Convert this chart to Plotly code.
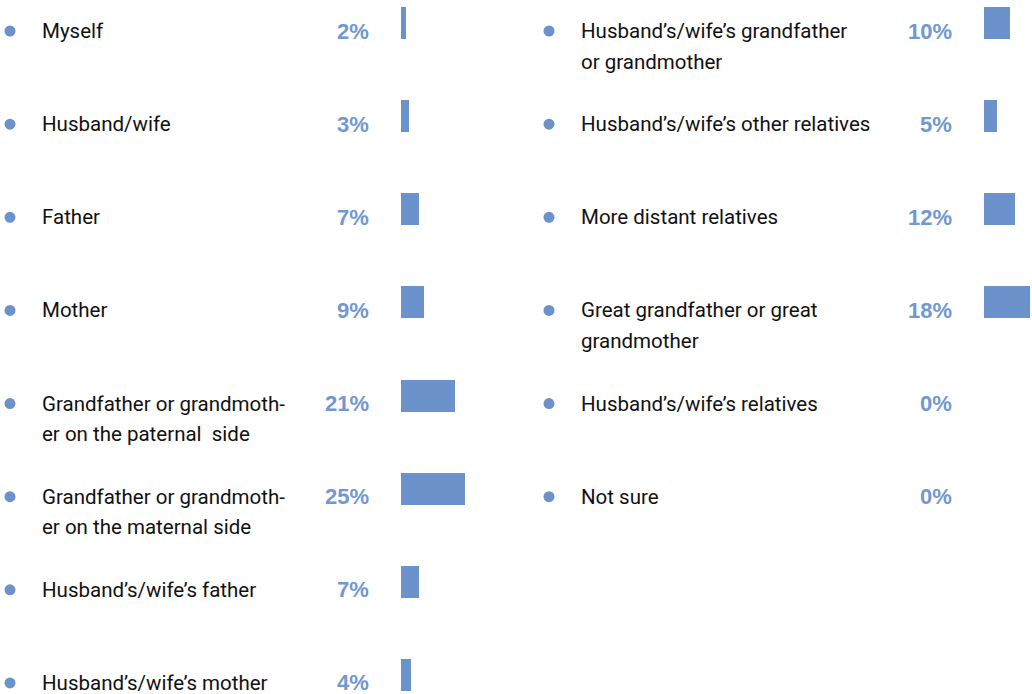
import plotly.graph_objects as go

# Left column categories and shares (%)
left_labels = [
    ["Myself"],
    ["Husband/wife"],
    ["Father"],
    ["Mother"],
    ["Grandfather or grandmoth-", "er on the paternal  side"],
    ["Grandfather or grandmoth-", "er on the maternal side"],
    ["Husband’s/wife’s father"],
    ["Husband’s/wife’s mother"],
]
left_values = [2, 3, 7, 9, 21, 25, 7, 4]

# Right column categories and shares (%)
right_labels = [
    ["Husband’s/wife’s grandfather", "or grandmother"],
    ["Husband’s/wife’s other relatives"],
    ["More distant relatives"],
    ["Great grandfather or great", "grandmother"],
    ["Husband’s/wife’s relatives"],
    ["Not sure"],
]
right_values = [10, 5, 12, 18, 0, 0]

W, H = 1032, 694
BAR_COLOR = "#6b92cb"
PCT_COLOR = "#7198d0"
TEXT_COLOR = "#111111"
ROW_PX = 93.14          # vertical distance between rows
TOP_PX = 23             # centre of first bar
PX_PER_PCT = 2.55

def px_to_row(py):
    return (py - TOP_PX) / ROW_PX

fig = go.Figure()

left_rows = list(range(len(left_values)))
right_rows = list(range(len(right_values)))

fig.add_trace(go.Bar(
    x=left_values, y=left_rows, orientation="h", xaxis="x", yaxis="y",
    marker=dict(color=BAR_COLOR, line=dict(width=0)), width=32 / ROW_PX,
    hoverinfo="skip", showlegend=False,
))
fig.add_trace(go.Bar(
    x=right_values, y=right_rows, orientation="h", xaxis="x2", yaxis="y",
    marker=dict(color=BAR_COLOR, line=dict(width=0)), width=32 / ROW_PX,
    hoverinfo="skip", showlegend=False,
))

annotations = []
shapes = []
TEXT_OFF = 8        # label line centre sits below the bar centre
LINE_PX = 30.5

def add_column(labels, values, bullet_x, label_x, pct_right):
    for i, (lines, v) in enumerate(zip(labels, values)):
        cy = TOP_PX + ROW_PX * i + TEXT_OFF
        for k, line in enumerate(lines):
            annotations.append(dict(
                x=label_x / W, xref="paper", xanchor="left",
                y=px_to_row(cy + k * LINE_PX), yref="y", yanchor="middle",
                text=line, showarrow=False, borderpad=0,
                font=dict(family="Roboto", size=20.5, color=TEXT_COLOR),
            ))
        annotations.append(dict(
            x=pct_right / W, xref="paper", xanchor="right",
            y=px_to_row(cy), yref="y", yanchor="middle",
            text=f"<b>{v}%</b>", showarrow=False, borderpad=0,
            font=dict(family="Liberation Sans", size=22, color=PCT_COLOR),
        ))
        r = 5.5
        shapes.append(dict(
            type="circle", xref="paper", yref="y",
            x0=(bullet_x - r) / W, x1=(bullet_x + r) / W,
            y0=px_to_row(cy - r), y1=px_to_row(cy + r),
            fillcolor=BAR_COLOR, line=dict(width=0),
        ))

add_column(left_labels, left_values, 10, 41, 370)
add_column(right_labels, right_values, 549, 580, 953)

left_x0, left_x1 = 401, 531
right_x0, right_x1 = 984, 1032

fig.update_layout(
    width=W, height=H,
    margin=dict(l=0, r=0, t=0, b=0),
    paper_bgcolor="white", plot_bgcolor="white",
    xaxis=dict(domain=[left_x0 / W, left_x1 / W],
               range=[0, (left_x1 - left_x0) / PX_PER_PCT],
               visible=False, fixedrange=True),
    xaxis2=dict(domain=[right_x0 / W, right_x1 / W],
                range=[0, (right_x1 - right_x0) / PX_PER_PCT],
                visible=False, fixedrange=True),
    yaxis=dict(domain=[0, 1], range=[px_to_row(H), px_to_row(0)],
               visible=False, fixedrange=True),
    annotations=annotations,
    shapes=shapes,
    bargap=0,
)

fig.write_html("out.html")
